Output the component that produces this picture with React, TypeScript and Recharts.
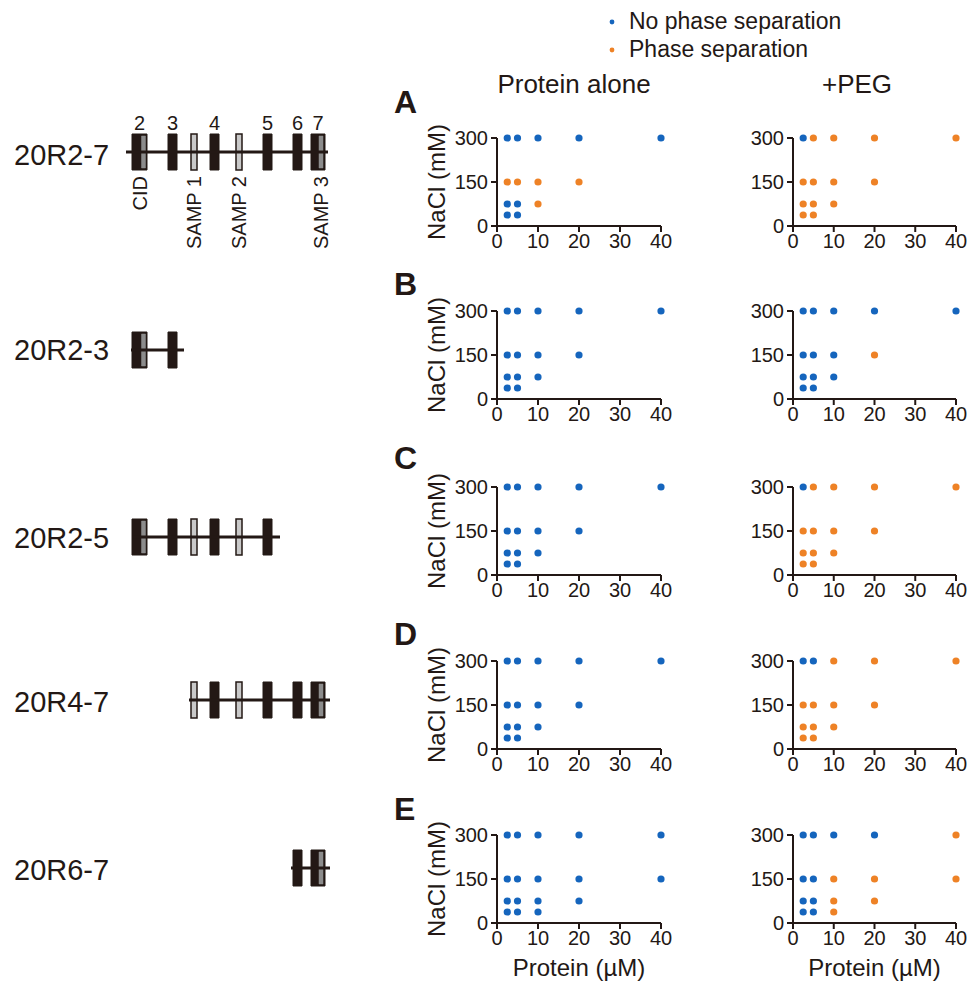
import React from 'react';
import {
  ScatterChart,
  Scatter,
  XAxis,
  YAxis,
  ComposedChart,
  ReferenceArea,
  ReferenceLine,
  Label,
} from 'recharts';

const INK = '#231815';
const BLUE = '#1565bd';
const ORANGE = '#ee8226';
const FONT = "'Liberation Sans', Arial, Helvetica, sans-serif";

// ---------- phase diagram data ----------
const proteinLevels = [2.5, 5, 10, 20, 40]; // µM
const naclLevels = [300, 150, 75, 37.5]; // mM
const proteinTicks = [0, 10, 20, 30, 40];
const naclTicks = [0, 150, 300];

// N = no phase separation, P = phase separation, - = not tested
const aloneA = [
  ['N', 'N', 'N', 'N', 'N'],
  ['P', 'P', 'P', 'P', '-'],
  ['N', 'N', 'P', '-', '-'],
  ['N', 'N', '-', '-', '-'],
];
const pegA = [
  ['N', 'P', 'P', 'P', 'P'],
  ['P', 'P', 'P', 'P', '-'],
  ['P', 'P', 'P', '-', '-'],
  ['P', 'P', '-', '-', '-'],
];
const aloneB = [
  ['N', 'N', 'N', 'N', 'N'],
  ['N', 'N', 'N', 'N', '-'],
  ['N', 'N', 'N', '-', '-'],
  ['N', 'N', '-', '-', '-'],
];
const pegB = [
  ['N', 'N', 'N', 'N', 'N'],
  ['N', 'N', 'N', 'P', '-'],
  ['N', 'N', 'N', '-', '-'],
  ['N', 'N', '-', '-', '-'],
];
const aloneC = [
  ['N', 'N', 'N', 'N', 'N'],
  ['N', 'N', 'N', 'N', '-'],
  ['N', 'N', 'N', '-', '-'],
  ['N', 'N', '-', '-', '-'],
];
const pegC = [
  ['N', 'P', 'P', 'P', 'P'],
  ['P', 'P', 'P', 'P', '-'],
  ['P', 'P', 'P', '-', '-'],
  ['P', 'P', '-', '-', '-'],
];
const aloneD = [
  ['N', 'N', 'N', 'N', 'N'],
  ['N', 'N', 'N', 'N', '-'],
  ['N', 'N', 'N', '-', '-'],
  ['N', 'N', '-', '-', '-'],
];
const pegD = [
  ['N', 'N', 'P', 'P', 'P'],
  ['P', 'P', 'P', 'P', '-'],
  ['P', 'P', 'P', '-', '-'],
  ['P', 'P', '-', '-', '-'],
];
const aloneE = [
  ['N', 'N', 'N', 'N', 'N'],
  ['N', 'N', 'N', 'N', 'N'],
  ['N', 'N', 'N', 'N', '-'],
  ['N', 'N', 'N', '-', '-'],
];
const pegE = [
  ['N', 'N', 'N', 'N', 'P'],
  ['N', 'N', 'P', 'P', 'P'],
  ['N', 'N', 'P', 'P', '-'],
  ['N', 'N', 'P', '-', '-'],
];

const panelLetters = ['A', 'B', 'C', 'D', 'E'];
const alonePanels = [aloneA, aloneB, aloneC, aloneD, aloneE];
const pegPanels = [pegA, pegB, pegC, pegD, pegE];
const seriesNames = ['No phase separation', 'Phase separation'];

// ---------- construct schematic data (position along protein, arbitrary units) ----------
const domainStart = [12, 48, 71, 90, 116, 143, 173, 191];
const domainEnd = [27, 57, 77, 99, 122, 152, 182, 205];
const domainKind = ['repeat', 'repeat', 'samp', 'repeat', 'samp', 'repeat', 'repeat', 'repeat'];
const domainNumber = ['2', '3', '', '4', '', '5', '6', '7'];
const domainBelow = ['CID', '', 'SAMP 1', '', 'SAMP 2', '', '', ''];
const motifParent = [0, 7];
const motifStart = [21.5, 199];
const motifEnd = [25.5, 203];
const motifBelow = ['', 'SAMP 3'];

const constructNames = ['20R2-7', '20R2-3', '20R2-5', '20R4-7', '20R6-7'];
const constructFirst = [0, 0, 0, 2, 6];
const constructLast = [7, 1, 5, 7, 7];
const constructLineStart = [6, 11, 12, 69, 171];
const constructLineEnd = [208, 64, 160, 210, 210];

// ---------- layout ----------
const rowTop = [138, 311, 487, 661, 835];
const letterBaseline = [113, 295, 469, 645, 820];
const constructCenter = [152, 350, 537, 700, 868];
const constructLabelBaseline = [165, 360, 548, 712, 880];

function toPoints(status: string[][], code: string) {
  const pts: { x: number; y: number }[] = [];
  status.forEach((row, i) =>
    row.forEach((s, j) => {
      if (s === code) pts.push({ x: proteinLevels[j], y: naclLevels[i] });
    })
  );
  return pts;
}

const axisLineStyle = { stroke: INK, strokeWidth: 2 };
const tickStyle = { fill: INK, fontSize: 20, fontFamily: FONT };

const NaclLabel = (props: any) => {
  const vb = props.viewBox ?? { x: 0, y: 20, width: 117, height: 88 };
  const bx = vb.x + 65;
  const cy = vb.y + vb.height / 2;
  return (
    <text
      x={bx}
      y={cy}
      transform={`rotate(-90 ${bx} ${cy})`}
      textAnchor="middle"
      fontSize={24}
      fontFamily={FONT}
      fill={INK}
    >
      NaCl (mM)
    </text>
  );
};

const dot = (color: string) => (p: any) =>
  <circle cx={p.cx} cy={p.cy} r={3.6} fill={color} />;

function Panel({ status, left, top, isLeft, isBottom }: any) {
  const yW = isLeft ? 117 : 93;
  const plotW = isLeft ? 164 : 163;
  const xH = isBottom ? 60 : 40;
  const mt = 22;
  const mr = 14;
  return (
    <div style={{ position: 'absolute', left, top: top - mt }}>
      <ScatterChart
        width={yW + plotW + mr}
        height={mt + 88 + xH}
        margin={{ top: mt, right: mr, bottom: 0, left: 0 }}
      >
        <XAxis
          type="number"
          dataKey="x"
          domain={[0, 40]}
          ticks={proteinTicks}
          interval={0}
          height={xH}
          axisLine={axisLineStyle}
          tickLine={axisLineStyle}
          tickSize={6}
          tickMargin={2}
          tick={tickStyle}
        >
          {isBottom && (
            <Label
              value="Protein (µM)"
              position="insideBottom"
              offset={7}
              fontSize={24}
              fontFamily={FONT}
              fill={INK}
            />
          )}
        </XAxis>
        <YAxis
          type="number"
          dataKey="y"
          domain={[0, 300]}
          ticks={naclTicks}
          interval={0}
          width={yW}
          axisLine={axisLineStyle}
          tickLine={axisLineStyle}
          tickSize={6}
          tickMargin={3}
          tick={tickStyle}
        >
          {isLeft && <Label content={NaclLabel} />}
        </YAxis>
        <Scatter
          name={seriesNames[0]}
          data={toPoints(status, 'N')}
          shape={dot(BLUE)}
          isAnimationActive={false}
        />
        <Scatter
          name={seriesNames[1]}
          data={toPoints(status, 'P')}
          shape={dot(ORANGE)}
          isAnimationActive={false}
        />
      </ScatterChart>
    </div>
  );
}

const numberLabel = (txt: string) => (p: any) => {
  const vb = p.viewBox || {};
  if (!txt) return null;
  return (
    <text
      x={vb.x + vb.width / 2}
      y={vb.y - 4}
      textAnchor="middle"
      fontSize={20}
      fontFamily={FONT}
      fill={INK}
    >
      {txt}
    </text>
  );
};

const belowLabel = (txt: string) => (p: any) => {
  const vb = p.viewBox || {};
  if (!txt) return null;
  const bx = vb.x + vb.width / 2 + 7;
  const by = vb.y + vb.height / 2 + 24;
  return (
    <text
      x={bx}
      y={by}
      transform={`rotate(-90 ${bx} ${by})`}
      textAnchor="end"
      fontSize={20}
      fontFamily={FONT}
      fill={INK}
    >
      {txt}
    </text>
  );
};

function Construct({ idx }: { idx: number }) {
  const full = idx === 0;
  const yMin = full ? -110 : -40;
  const yMax = full ? 70 : 40;
  const h = yMax - yMin;
  const top = constructCenter[idx] - yMax;
  const ids: number[] = [];
  for (let i = constructFirst[idx]; i <= constructLast[idx]; i++) ids.push(i);
  return (
    <div style={{ position: 'absolute', left: 120, top }}>
      <ComposedChart width={220} height={h} margin={{ top: 0, right: 0, bottom: 0, left: 0 }}>
        <XAxis type="number" dataKey="x" domain={[0, 220]} hide allowDataOverflow />
        <YAxis type="number" dataKey="y" domain={[yMin, yMax]} hide allowDataOverflow />
        <ReferenceLine
          segment={[
            { x: constructLineStart[idx], y: 0 },
            { x: constructLineEnd[idx], y: 0 },
          ]}
          stroke={INK}
          strokeWidth={3}
          ifOverflow="visible"
        />
        {ids.map((i) => (
          <ReferenceArea
            key={`d${i}`}
            x1={domainStart[i]}
            x2={domainEnd[i]}
            y1={-18}
            y2={18}
            fill={domainKind[i] === 'samp' ? '#c9c9c9' : INK}
            fillOpacity={1}
            stroke={INK}
            strokeWidth={domainKind[i] === 'samp' ? 1.5 : 1}
            ifOverflow="visible"
            label={full ? (domainKind[i] === 'samp' ? belowLabel(domainBelow[i]) : numberLabel(domainNumber[i])) : undefined}
          />
        ))}
        {full && ids.filter((i) => domainBelow[i] && domainKind[i] !== 'samp').map((i) => (
          <ReferenceArea
            key={`b${i}`}
            x1={domainStart[i]}
            x2={domainEnd[i]}
            y1={-18}
            y2={18}
            fillOpacity={0}
            strokeOpacity={0}
            ifOverflow="visible"
            label={belowLabel(domainBelow[i])}
          />
        ))}
        {motifParent.map((par, m) =>
          ids.includes(par) ? (
            <ReferenceArea
              key={`m${m}`}
              x1={motifStart[m]}
              x2={motifEnd[m]}
              y1={-16}
              y2={16}
              fill="#8c8c8c"
              fillOpacity={1}
              stroke="#8c8c8c"
              strokeWidth={0.5}
              ifOverflow="visible"
              label={full ? belowLabel(motifBelow[m]) : undefined}
            />
          ) : null
        )}
      </ComposedChart>
    </div>
  );
}

export default function App() {
  return (
    <div style={{ position: 'relative', width: 968, height: 986, background: '#fff', fontFamily: FONT }}>
      <style>{`body{margin:0;}`}</style>
      <svg
        width={968}
        height={986}
        style={{ position: 'absolute', left: 0, top: 0, pointerEvents: 'none' }}
      >
        {/* legend */}
        <circle cx={612} cy={22} r={2.4} fill={BLUE} />
        <text x={629} y={29} fontSize={23} fontFamily={FONT} fill={INK}>
          {seriesNames[0]}
        </text>
        <circle cx={612} cy={50} r={2.4} fill={ORANGE} />
        <text x={629} y={57} fontSize={23} fontFamily={FONT} fill={INK}>
          {seriesNames[1]}
        </text>
        {/* column headers */}
        <text x={574} y={93} textAnchor="middle" fontSize={26} fontFamily={FONT} fill={INK}>
          Protein alone
        </text>
        <text x={857} y={93} textAnchor="middle" fontSize={26} fontFamily={FONT} fill={INK}>
          +PEG
        </text>
        {panelLetters.map((l, i) => (
          <text
            key={l}
            x={394}
            y={letterBaseline[i]}
            fontSize={32}
            fontWeight="bold"
            fontFamily={FONT}
            fill={INK}
          >
            {l}
          </text>
        ))}
        {constructNames.map((n, i) => (
          <text
            key={n}
            x={14}
            y={constructLabelBaseline[i]}
            fontSize={29}
            fontFamily={FONT}
            fill={INK}
          >
            {n}
          </text>
        ))}
      </svg>
      {constructNames.map((n, i) => (
        <Construct key={n} idx={i} />
      ))}
      {panelLetters.map((l, i) => (
        <React.Fragment key={l}>
          <Panel status={alonePanels[i]} left={380} top={rowTop[i]} isLeft isBottom={i === 4} />
          <Panel status={pegPanels[i]} left={700} top={rowTop[i]} isLeft={false} isBottom={i === 4} />
        </React.Fragment>
      ))}
    </div>
  );
}
